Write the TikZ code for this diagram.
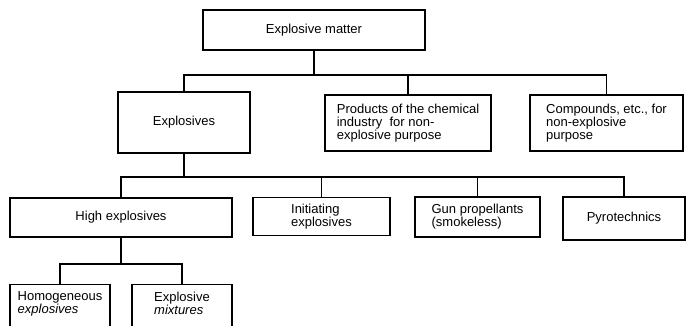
\documentclass[tikz,border=0pt]{standalone}
\usepackage{fontspec}
\setmainfont{Liberation Sans}
\newcommand\boxfont{\fontsize{13}{13}\selectfont}
\begin{document}
\begin{tikzpicture}[x=1pt,y=-1pt,
  box/.style={draw, line width=1.4pt, inner sep=0pt, align=left, font=\boxfont},
  conn/.style={line width=1.4pt}]
\useasboundingbox (0,0) rectangle (687,326);
\clip (0,0) rectangle (687,326);
% level 0
\node[box, minimum width=222, minimum height=40] (top) at (314,30) {Explosive matter};
% level 1
\node[box, minimum width=132, minimum height=61] (expl) at (184,122.5) {Explosives};
\node[box, minimum width=166, minimum height=56] (prod) at (408,123) 
  {Products of the chemical\\industry\ \ for non-\\explosive purpose};
\node[box, minimum width=153, minimum height=56] (comp) at (606.5,123)
  {Compounds, etc., for\\non-explosive\\purpose};
% level 2
\node[box, minimum width=222, minimum height=39] (high) at (121,217.5) {High explosives};
\node[box, minimum width=137, minimum height=38] (init) at (321.5,216.5) {Initiating\\explosives};
\node[box, minimum width=125, minimum height=40] (gun) at (477.5,217) {Gun propellants\\(smokeless)};
\node[box, minimum width=122, minimum height=43] (pyro) at (624,218.5) {Pyrotechnics};
% level 3
\node[box, anchor=north, minimum width=100, inner ysep=7pt] (homo) at (60,284)
  {Homogeneous\\\textit{explosives}\\[30pt]\mbox{}};
\node[box, anchor=north, minimum width=100, inner ysep=7pt] (mix) at (182,284)
  {Explosive\\\textit{mixtures}\\[30pt]\mbox{}};
% junctions
\coordinate (j1) at (314,75);
\coordinate (j2) at (184,177);
\coordinate (j3) at (121,264);
% connectors
\draw[conn] (top.south) -- (j1);
\draw[conn] (expl.north) |- (j1);
\draw[conn] (comp.north) |- (j1);
\draw[conn] (prod.north) -- (prod.north |- j1);
\draw[conn] (expl.south) -- (j2);
\draw[conn] (high.north) |- (j2);
\draw[conn] (pyro.north) |- (j2);
\draw[conn] (init.north) -- (init.north |- j2);
\draw[conn] (gun.north) -- (gun.north |- j2);
\draw[conn] (high.south) -- (j3);
\draw[conn] (homo.north) |- (j3);
\draw[conn] (mix.north) |- (j3);
\end{tikzpicture}
\end{document}
